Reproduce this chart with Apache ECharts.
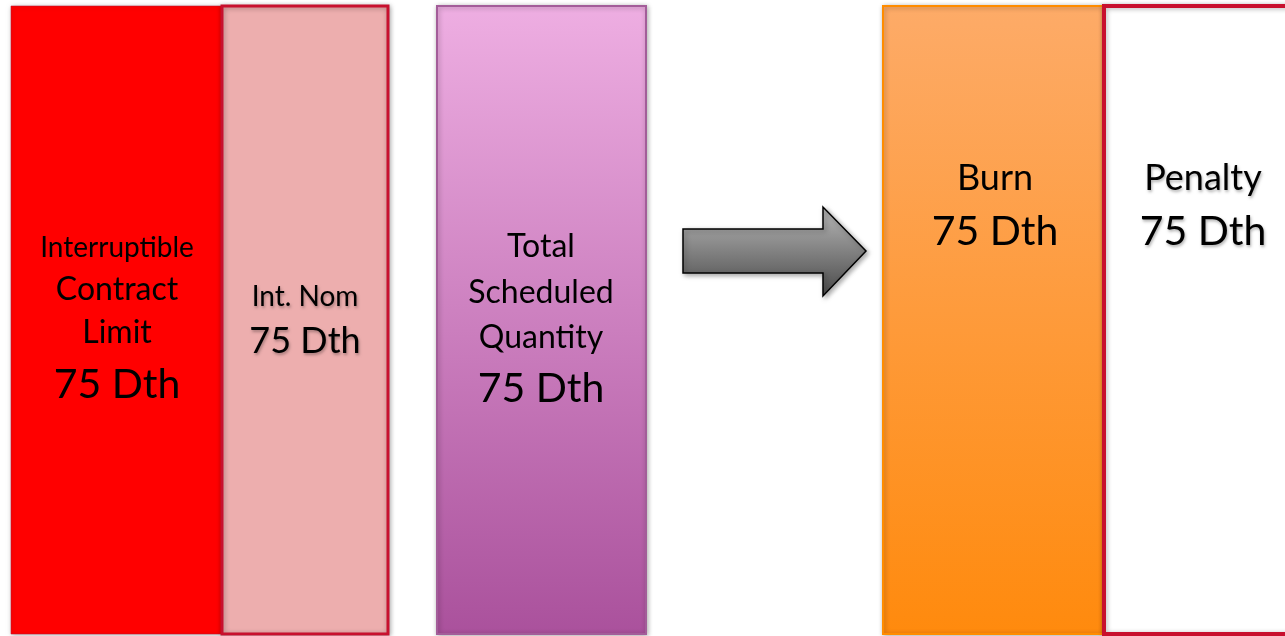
<!DOCTYPE html>
<html>
<head>
<meta charset="utf-8">
<title>Interruptible flow</title>
<script src="https://cdn.jsdelivr.net/npm/echarts@6/dist/echarts.min.js"></script>
<style>
  html, body { margin: 0; padding: 0; background: #fff; }
  #chart { width: 1285px; height: 636px; }
</style>
</head>
<body>
<div id="chart"></div>
<script>
// data
const categories = ["Interruptible Contract Limit", "Int. Nom", "Total Scheduled Quantity", "Burn", "Penalty"];
const values = [75, 75, 75, 75, 75];
const unit = "Dth";
const nameLines = [
  ["Interruptible", "Contract", "Limit"],
  ["Int. Nom"],
  ["Total", "Scheduled", "Quantity"],
  ["Burn"],
  ["Penalty"]
];

// layout (pixel columns on a 0..1285 x axis)
const columns = [[11, 222], [222, 388], [437, 646], [883, 1104], [1104, 1310]];
const labelX = [117, 305, 541, 995, 1203];
// y centre of each text line, last one is the value line
const lineY = [
  [248, 290, 333, 385],
  [297, 341],
  [247, 293, 338, 389],
  [178, 232],
  [178, 232]
];
const lineSize = [
  [28, 32, 32, 41],
  [28, 36],
  [32, 32, 32, 41],
  [36, 41],
  [36, 41]
];
const textShadow = [false, true, false, false, true];

const grad = (a, b) => new echarts.graphic.LinearGradient(0, 0, 0, 1, [
  { offset: 0, color: a }, { offset: 1, color: b }
]);
const barStyles = [
  { fill: "#FF0000", stroke: "rgba(190,20,50,0.55)", lineWidth: 1 },
  { fill: "#EDAEAE", stroke: "#C8102E", lineWidth: 3 },
  { fill: grad("#EEAEE2", "#AA519C"), stroke: "#A35D99", lineWidth: 2 },
  { fill: grad("#FDAB68", "#FF8A0D"), stroke: "#FF8C00", lineWidth: 2 },
  { fill: "#FFFFFF", stroke: "#C8102E", lineWidth: 4 }
];

const chart = echarts.init(document.getElementById("chart"));

chart.setOption({
  animation: false,
  grid: { left: 0, right: 0, top: 6, bottom: 2 },
  xAxis: { type: "value", min: 0, max: 1285, show: false },
  yAxis: { type: "value", min: 0, max: 75, show: false },
  series: [{
    type: "custom",
    name: "Quantity",
    data: values.map((v, i) => ({ name: categories[i], value: [i, v] })),
    encode: { x: -1, y: 1 },
    renderItem: function (params, api) {
      const i = params.dataIndex;
      const top = api.coord([columns[i][0], api.value(1)]);
      const base = api.coord([columns[i][1], 0]);
      const st = barStyles[i];
      const lines = nameLines[i].concat([api.value(1) + " " + unit]);
      const texts = lines.map((t, k) => ({
        type: "text",
        silent: true,
        style: {
          text: t,
          x: labelX[i],
          y: lineY[i][k],
          align: "center",
          verticalAlign: "middle",
          fill: "#000",
          font: lineSize[i][k] + "px Lato, 'Open Sans', sans-serif",
          textShadowColor: textShadow[i] ? "rgba(0,0,0,0.3)" : "transparent",
          textShadowBlur: textShadow[i] ? 3 : 0,
          textShadowOffsetX: 1,
          textShadowOffsetY: 2
        }
      }));
      return {
        type: "group",
        children: [{
          type: "rect",
          shape: { x: top[0], y: top[1], width: base[0] - top[0], height: base[1] - top[1] },
          style: {
            fill: st.fill,
            stroke: st.stroke,
            lineWidth: st.lineWidth,
            shadowBlur: 5,
            shadowColor: "rgba(0,0,0,0.3)",
            shadowOffsetX: 1,
            shadowOffsetY: 1
          }
        }].concat(texts)
      };
    }
  }],
  graphic: [{
    type: "polygon",
    shape: {
      points: [[683, 229], [823, 229], [823, 207], [866, 251], [823, 296], [823, 273], [683, 273]]
    },
    style: {
      fill: grad("#B8B8B8", "#4A4A4A"),
      stroke: "#000",
      lineWidth: 1.5,
      shadowBlur: 5,
      shadowColor: "rgba(0,0,0,0.35)",
      shadowOffsetX: 2,
      shadowOffsetY: 2
    }
  }]
});
</script>
</body>
</html>
